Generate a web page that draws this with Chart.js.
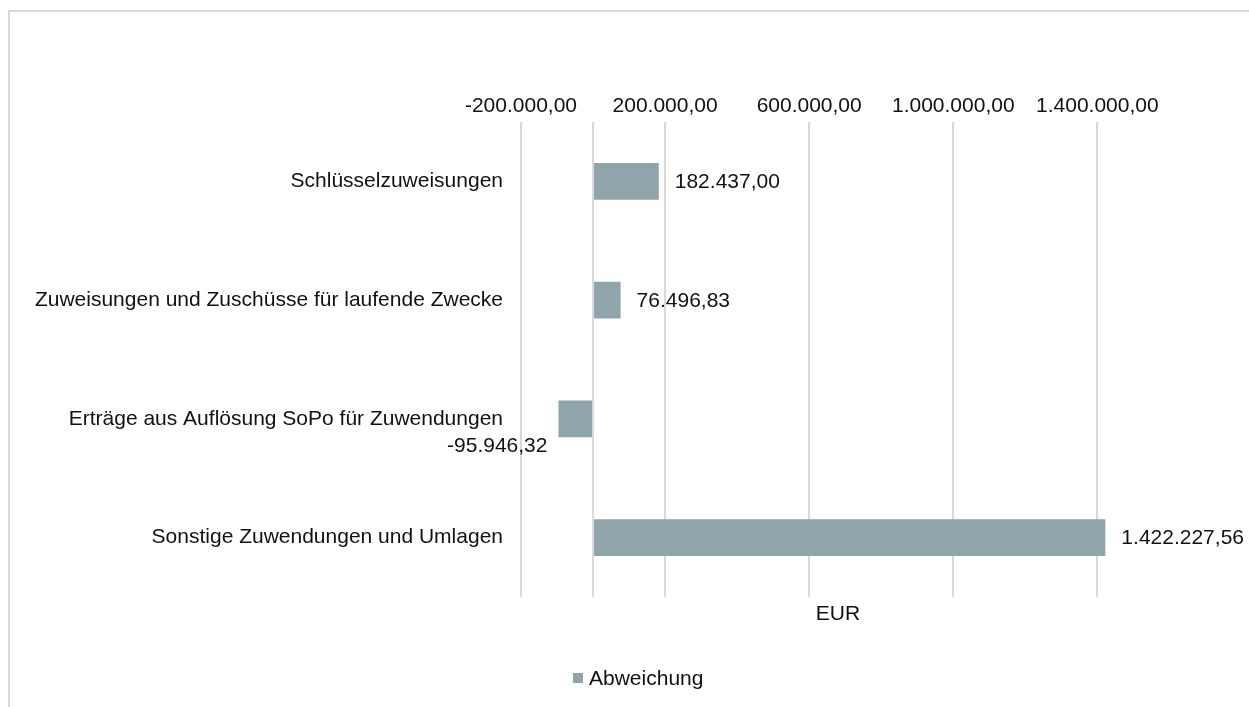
<!DOCTYPE html>
<html>
<head>
<meta charset="utf-8">
<script src="https://cdn.jsdelivr.net/npm/chart.js@4.4.1/dist/chart.umd.min.js"></script>
<style>
  html, body { margin: 0; padding: 0; background: #fff; overflow: hidden; }
  #wrap { position: relative; width: 1249px; height: 707px; }
  #frame { position: absolute; left: 8px; top: 10px; width: 1400px; height: 800px;
           border-top: 2px solid #d9d9d9; border-left: 2px solid #d9d9d9; }
  canvas { position: absolute; left: 0; top: 0; }
</style>
</head>
<body>
<div id="wrap">
  <div id="frame"></div>
  <canvas id="c" width="1249" height="707"></canvas>
</div>
<script>
const categories = [
  "Schlüsselzuweisungen",
  "Zuweisungen und Zuschüsse für laufende Zwecke",
  "Erträge aus Auflösung SoPo für Zuwendungen",
  "Sonstige Zuwendungen und Umlagen"
];
const abweichung = [182437.00, 76496.83, -95946.32, 1422227.56];
const tickValues = [-200000, 0, 200000, 600000, 1000000, 1400000];
const seriesName = "Abweichung";
const axisTitle = "EUR";

const FONT = "'Liberation Sans', Arial, sans-serif";
const BAR_COLOR = "#90a4ab";

function fmt(v, digits) {
  return v.toLocaleString('de-DE', { minimumFractionDigits: digits, maximumFractionDigits: digits });
}

const extras = {
  id: 'extras',
  afterDatasetsDraw(chart) {
    const ctx = chart.ctx;
    const meta = chart.getDatasetMeta(0);
    ctx.save();
    ctx.font = "21px " + FONT;
    ctx.fillStyle = "#111";
    meta.data.forEach((bar, i) => {
      const v = abweichung[i];
      const txt = fmt(v, 2);
      if (v >= 0) {
        ctx.textAlign = 'left';
        ctx.textBaseline = 'middle';
        ctx.fillText(txt, bar.x + 16, bar.y + 1);
      } else {
        ctx.textAlign = 'right';
        ctx.textBaseline = 'middle';
        ctx.fillText(txt, bar.x - 11, bar.y + 27);
      }
    });
    // axis title
    const ca = chart.chartArea;
    ctx.textAlign = 'center';
    ctx.textBaseline = 'middle';
    ctx.fillText(axisTitle, (ca.left + ca.right) / 2, ca.bottom + 17);
    // legend
    ctx.fillStyle = BAR_COLOR;
    ctx.fillRect(573, 673, 10, 10);
    ctx.fillStyle = "#111";
    ctx.textAlign = 'left';
    ctx.fillText(seriesName, 589, 679);
    ctx.restore();
  }
};

new Chart(document.getElementById('c'), {
  type: 'bar',
  data: {
    labels: categories,
    datasets: [{
      label: seriesName,
      data: abweichung,
      backgroundColor: BAR_COLOR,
      borderWidth: 0,
      barPercentage: 1,
      categoryPercentage: 0.31
    }]
  },
  options: {
    indexAxis: 'y',
    responsive: false,
    animation: false,
    devicePixelRatio: 1,
    layout: { padding: { left: 0, top: 0, right: 94, bottom: 110 } },
    plugins: {
      legend: { display: false },
      tooltip: { enabled: false }
    },
    scales: {
      x: {
        position: 'top',
        min: -200000,
        max: 1560000,
        afterBuildTicks(scale) { scale.ticks = tickValues.map(v => ({ value: v })); },
        afterFit(scale) { scale.height = 122; },
        grid: { color: '#d9d9d9', lineWidth: 2, drawTicks: false },
        border: { display: false },
        ticks: {
          padding: 3,
          color: '#111',
          font: { size: 21, family: FONT },
          maxRotation: 0,
          autoSkip: false,
          callback: (v) => v === 0 ? '' : fmt(v, 2)
        }
      },
      y: {
        afterFit(scale) { scale.width = 521; },
        grid: { display: false, drawTicks: false },
        border: { display: false },
        ticks: {
          padding: 18,
          color: '#111',
          font: { size: 21, family: FONT }
        }
      }
    }
  },
  plugins: [extras]
});
</script>
</body>
</html>
